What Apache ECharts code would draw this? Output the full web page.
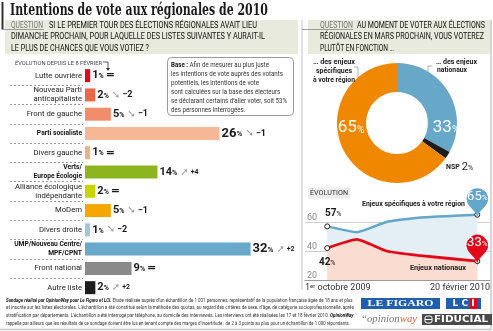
<!DOCTYPE html>
<html><head><meta charset="utf-8">
<script src="https://cdn.jsdelivr.net/npm/echarts@6/dist/echarts.min.js"></script>
<style>html,body{margin:0;padding:0;background:#fff;}#c{width:493px;height:331px;}</style>
</head><body><div id="c"></div>
<script>
// ---------- DATA ----------
const categories = ['Lutte ouvrière','Nouveau Parti\nanticapitaliste','Front de gauche','Parti socialiste','Divers gauche','Verts/\nEurope Écologie','Alliance écologique\nindépendante','MoDem','Divers droite','UMP/Nouveau Centre/\nMPF/CPNT','Front national','Autre liste'];
const voteShares = [1, 2, 5, 26, 1, 14, 2, 5, 1, 32, 9, 2];
const changesSinceFeb8 = [0, -2, -1, -1, 0, 4, 0, -1, -2, 2, 0, 2];
const boldCategories = ['Parti socialiste', 'Verts/\nEurope Écologie', 'UMP/Nouveau Centre/\nMPF/CPNT'];

const donutNames = ['… des enjeux nationaux', 'NSP', '… des enjeux spécifiques à votre région'];
const donutValues = [33, 2, 65];

const surveyDays = [0, 28, 56, 86, 142];           // days after 1 Oct 2009
const regionalStakes = [57, 53, 60, 63, 65];
const nationalStakes = [42, 48, 40, 37, 33];
const evolutionXLabels = ['1{s|er} octobre 2009', '20 février 2010'];

// ---------- STYLE ----------
const barColors = ['#e2081a','#ea6a48','#f18d6a','#f6b797','#dcb98c','#8cb51f','#c9d300','#f5a700','#a9c4d3','#68a8c8','#8a8a8a','#1c1c1c'];
const donutColors = ['#67a8c9', '#1c1c1c', '#f08700'];

// ---------- font helpers (pick narrowest installed sans, measure text) ----------
const mctx = document.createElement('canvas').getContext('2d');
const stripRich = t => t.replace(/\{[a-zA-Z]+\|([^}]*)\}/g, '$1');
function textW(font, text) { mctx.font = font; return mctx.measureText(stripRich(text)).width; }
const probe = 'Lutte ouvrière Front de gauche UMP/Nouveau Centre';
const cands = [
  {fam: "'Liberation Sans Narrow'", st: ''},
  {fam: "'DejaVu Sans Condensed'", st: ''},
  {fam: "'DejaVu Sans'", st: 'condensed'},
  {fam: "'Liberation Sans'", st: ''},
  {fam: "'Roboto'", st: ''}
];
let best = null;
cands.forEach(c => {
  const a = textW(`${c.st} 9px ${c.fam}, monospace`, probe), b = textW(`${c.st} 9px ${c.fam}, serif`, probe);
  if (Math.abs(a - b) > 0.01) return;
  if (c.st && textW(`${c.st} 9px ${c.fam}`, probe) >= textW(`9px ${c.fam}`, probe) - 0.5) return;
  if (!best || a < best.w) best = {fam: c.fam, st: c.st, w: a};
});
if (!best) best = {fam: 'sans-serif', st: ''};
const FAM = best.fam + ', sans-serif';
const ST = best.st;
const W = w => ST ? (w === 'bold' ? 'condensed bold' : 'condensed') : w;
const mkFont = (w, size, fam) => `${ST} ${w} ${size}px ${fam || FAM}`;

function fit(o) {
  const font = o.font || mkFont(o.weight || 'normal', o.size, o.fam);
  const s = o.target ? o.target / textW(font, o.text) : 1;
  return {type: 'text', x: o.x, y: o.y, scaleX: s, z: 100,
    style: {text: o.text, font, fill: o.fill || '#1a1a1a', align: o.align || 'left', verticalAlign: 'middle', rich: o.rich}};
}
const clamp = (v, a, b) => Math.max(a, Math.min(b, v));
const catSizeN = clamp(9 * 47 / textW(mkFont('normal', 9), 'Lutte ouvrière'), 6.5, 9);
const catSizeB = clamp(9 * 68 / textW(mkFont('bold', 9), 'UMP/Nouveau Centre/'), 6.5, 9);
const catLH = Math.max(catSizeN, catSizeB) + 1.5;

const chart = echarts.init(document.getElementById('c'), null, {renderer: 'canvas'});

const barLabel = p => {
  const c = changesSinceFeb8[p.dataIndex];
  const v = p.value >= 20 ? 'vb' : 'v';
  let s = `{${v}|${p.value}}{${v === 'vb' ? 'pb' : 'p'}|%}`;
  if (c === 0) s += '{eq|=}';
  else s += (c < 0 ? '{a|➘}' : '{a|➚}') + `{${c > 0 ? 'dp' : 'd'}|${c < 0 ? '−' : '+'}${Math.abs(c)}}`;
  return s;
};
const catLabel = v => {
  const tag = boldCategories.includes(v) ? 'b' : 'n';
  return v.split('\n').map(l => `{${tag}|${l}}`).join('\n');
};
const rs = (size, w, color, extra) => Object.assign({fontSize: size, fontWeight: W(w), color, fontFamily: FAM}, extra || {});
const gs = (size, w, fill, extra) => Object.assign({fontSize: size, fontWeight: W(w), fill, fontFamily: FAM}, extra || {});

const footerLines = [
  '{bi|Sondage réalisé par OpinionWay pour Le Figaro et LCI.} Étude réalisée auprès d\u2019un échantillon de 1 001 personnes, représentatif de la population française âgée de 18 ans et plus',
  'et inscrite sur les listes électorales. L\u2019échantillon a été constitué selon la méthode des quotas, au regard des critères de sexe, d\u2019âge, de catégorie socioprofessionnelle, après',
  'stratification par départements. L\u2019échantillon a été interrogé par téléphone, au domicile des interviewés. Les interviews ont été réalisées les 17 et 18 février 2010. {bi|OpinionWay}',
  'rappelle par ailleurs que les résultats de ce sondage doivent être lus en tenant compte des marges d\u2019incertitude : de 2 à 3 points au plus pour un échantillon de 1 000 répondants.'
];
const footerTargets = [348, 348, 348, 344];
const baseLines = ['{b|Base :} Afin de mesurer au plus juste', 'les intentions de vote auprès des votants', 'potentiels, les intentions de vote', 'sont calculées sur la base des électeurs', 'se déclarant certains d\u2019aller voter, soit 53%', 'des personnes interrogées.'];
const baseScale = 116 / textW(mkFont('normal', 7.5), baseLines[4]);

const gfx = [
  // frame lines
  {type: 'line', shape: {x1: 0, y1: 329.5, x2: 491, y2: 329.5}, style: {stroke: '#c8c8c8', lineWidth: 1.5}},
  {type: 'line', shape: {x1: 491, y1: 20, x2: 491, y2: 330}, style: {stroke: '#c8c8c8', lineWidth: 1.5}},
  {type: 'line', shape: {x1: 302, y1: 20, x2: 302, y2: 290}, style: {stroke: '#c4c4c4', lineWidth: 1}},
  // title
  {type: 'line', shape: {x1: 2.5, y1: 2, x2: 2.5, y2: 29.5}, style: {stroke: '#333', lineWidth: 2}},
  fit({x: 10, y: 10.5, text: 'Intentions de vote aux régionales de 2010', font: "bold 16px 'DejaVu Serif', serif", target: 258}),
  // left question
  {type: 'rect', shape: {x: 5, y: 20, width: 293, height: 34}, style: {fill: '#e7eadc'}},
  {type: 'line', shape: {x1: 2.5, y1: 29.5, x2: 44, y2: 29.5}, style: {stroke: '#888', lineWidth: 0.8}},
  fit({x: 11, y: 25.5, text: 'QUESTION', size: 9, fill: '#777', target: 32}),
  fit({x: 49, y: 25.5, text: 'SI LE PREMIER TOUR DES ÉLECTIONS RÉGIONALES AVAIT LIEU', size: 9, fill: '#111', target: 208}),
  fit({x: 11, y: 37, text: 'DIMANCHE PROCHAIN, POUR LAQUELLE DES LISTES SUIVANTES Y AURAIT-IL', size: 9, fill: '#111', target: 254}),
  fit({x: 11, y: 48.5, text: 'LE PLUS DE CHANCES QUE VOUS VOTIEZ ?', size: 9, fill: '#111', target: 138}),
  // evolution note
  fit({x: 15, y: 63, text: 'ÉVOLUTION DEPUIS LE 8 FÉVRIER', size: 6, fill: '#444', target: 87}),
  {type: 'polyline', shape: {points: [[103, 62], [108, 62], [108, 69]]}, style: {stroke: '#333', lineWidth: 0.8, fill: null}},
  {type: 'polygon', shape: {points: [[106, 68], [110, 68], [108, 71]]}, style: {fill: '#333'}},
  // base box
  {type: 'rect', shape: {x: 167.5, y: 57.5, width: 126, height: 58, r: 4}, style: {fill: '#fff', stroke: '#9a9a9a', lineWidth: 1}},
  ...baseLines.map((t, i) => ({type: 'text', x: 171, y: 65 + i * 9, scaleX: baseScale, z: 100,
    style: {text: t, font: mkFont('normal', 7.5), fill: '#333', verticalAlign: 'middle', rich: {b: gs(7.5, 'bold', '#111')}}})),
  // right question
  {type: 'rect', shape: {x: 308, y: 20, width: 182, height: 34}, style: {fill: '#e7eadc'}},
  {type: 'line', shape: {x1: 302, y1: 29.5, x2: 353, y2: 29.5}, style: {stroke: '#888', lineWidth: 0.8}},
  fit({x: 320, y: 25.5, text: 'QUESTION', size: 9, fill: '#777', target: 33}),
  fit({x: 357, y: 25.5, text: 'AU MOMENT DE VOTER AUX ÉLECTIONS', size: 9, fill: '#111', target: 128}),
  fit({x: 320, y: 37, text: 'RÉGIONALES EN MARS PROCHAIN, VOUS VOTEREZ', size: 9, fill: '#111', target: 164}),
  fit({x: 320, y: 48.5, text: 'PLUTÔT EN FONCTION …', size: 9, fill: '#111', target: 74}),
  // donut annotations
  fit({x: 334, y: 61.5, text: '… des enjeux', size: 8, weight: 'bold', align: 'center', target: 42}),
  fit({x: 334, y: 70.5, text: 'spécifiques', size: 8, weight: 'bold', align: 'center', target: 36}),
  fit({x: 334, y: 79.5, text: 'à votre région', size: 8, weight: 'bold', align: 'center', target: 42}),
  fit({x: 436, y: 61.5, text: '… des enjeux', size: 8, weight: 'bold', target: 41}),
  fit({x: 437, y: 70, text: 'nationaux', size: 8, weight: 'bold', target: 30}),
  {type: 'polyline', shape: {points: [[354, 67], [358, 67], [358, 86]]}, style: {stroke: '#999', lineWidth: 0.8, fill: null}},
  {type: 'polyline', shape: {points: [[432, 66], [428, 66], [428, 80]]}, style: {stroke: '#999', lineWidth: 0.8, fill: null}},
  fit({x: 351, y: 128, text: `{v|${donutValues[2]}}{p|%}`, size: 17, align: 'center',
    rich: {v: gs(17, 'normal', '#fff'), p: gs(10, 'normal', '#fff', {padding: [4, 0, 0, 0]})}}),
  fit({x: 446, y: 128, text: `{v|${donutValues[0]}}{p|%}`, size: 17, align: 'center',
    rich: {v: gs(17, 'normal', '#fff'), p: gs(10, 'normal', '#fff', {padding: [4, 0, 0, 0]})}}),
  fit({x: 446, y: 167, text: `{n|NSP} {v|${donutValues[1]}}{p|%}`, size: 8,
    rich: {n: gs(7, 'bold', '#1a1a1a'), v: gs(11, 'normal', '#1a1a1a'), p: gs(7, 'normal', '#1a1a1a', {padding: [2, 0, 0, 0]})}}),
  // evolution block
  {type: 'rect', shape: {x: 308, y: 187.5, width: 42, height: 11}, style: {fill: '#ededed'}},
  fit({x: 310, y: 193, text: 'ÉVOLUTION', size: 8, fill: '#333', target: 38}),
  fit({x: 413.5, y: 204, text: 'Enjeux spécifiques à votre région', size: 8, weight: 'bold', align: 'center', target: 103}),
  fit({x: 438, y: 268, text: 'Enjeux nationaux', size: 8, weight: 'bold', align: 'center', target: 56}),
  // footer
  ...footerLines.map((t, i) => fit({x: 6, y: 300.5 + i * 7.6, text: t, size: 5.4, fill: '#333', target: footerTargets[i],
    rich: {bi: gs(5.4, 'bold', '#111', {fontStyle: 'italic'})}})),
  // logos
  {type: 'rect', shape: {x: 361, y: 298, width: 79, height: 11}, style: {fill: '#1f5fae'}},
  fit({x: 400.5, y: 303.8, text: 'LE FIGARO', font: "bold 9px 'Liberation Serif',serif", fill: '#fff', align: 'center', target: 66}),
  {type: 'rect', shape: {x: 446, y: 298, width: 35, height: 11}, style: {fill: '#1f5fae'}},
  {type: 'rect', shape: {x: 470, y: 298, width: 8, height: 11}, style: {fill: '#e2081a'}},
  fit({x: 463.5, y: 303.8, text: 'L C I', font: "bold 9px 'DejaVu Sans',sans-serif", fill: '#fff', align: 'center'}),
  fit({x: 361, y: 319, text: '{g|\u201copinion}{o|way}', font: "italic 10px 'Liberation Serif',serif", target: 56,
    rich: {g: {fontSize: 10, fontStyle: 'italic', fill: '#777', fontFamily: "'Liberation Serif',serif"}, o: {fontSize: 10, fontStyle: 'italic', fill: '#e8562a', fontFamily: "'Liberation Serif',serif"}}}),
  {type: 'rect', shape: {x: 422, y: 314, width: 70, height: 11}, style: {fill: '#4a4a4a'}},
  {type: 'rect', shape: {x: 425, y: 316, width: 7, height: 7, r: 2}, style: {fill: null, stroke: '#fff', lineWidth: 1}},
  {type: 'line', shape: {x1: 425, y1: 319.5, x2: 432, y2: 319.5}, style: {stroke: '#fff', lineWidth: 1}},
  fit({x: 461, y: 319.8, text: 'FIDUCIAL', font: "bold 8px 'DejaVu Sans',sans-serif", fill: '#fff', align: 'center', target: 54})
];

const lineSeries = (vals, color, width, area, labelPos, labelOffset) => ({
  type: 'line', xAxisIndex: 1, yAxisIndex: 1, smooth: 0.15,
  data: surveyDays.map((d, i) => ({value: [d, vals[i]],
    symbol: (i === 0 || i === surveyDays.length - 1) ? 'circle' : 'none',
    label: i === 0 ? {show: true, position: labelPos, offset: labelOffset, formatter: () => `{v|${vals[0]}}{p|%}`} : {show: false}})),
  symbolSize: 5, lineStyle: {color, width},
  itemStyle: {color: '#fff', borderColor: '#222', borderWidth: 1},
  areaStyle: {color: area, opacity: 1},
  label: {rich: {v: rs(10, 'bold', '#1a1a1a'), p: rs(7, 'normal', '#1a1a1a', {padding: [2, 0, 0, 0]})}},
  markPoint: {symbol: 'pin', symbolSize: [36, 35], symbolOffset: [0, 4],
    itemStyle: {color},
    label: {show: true, position: 'inside', offset: [0, -4], formatter: () => `{v|${vals[vals.length - 1]}}{p|%}`,
      rich: {v: rs(13, 'normal', '#fff'), p: rs(8, 'normal', '#fff', {padding: [3, 0, 0, 0]})}},
    data: [{coord: [surveyDays[surveyDays.length - 1], vals[vals.length - 1]]}]}
});

const option = {
  animation: false,
  textStyle: {fontFamily: FAM},
  grid: [
    {left: 85, top: 66, width: 207, height: 231.3, outerBoundsMode: 'none'},
    {left: 305, top: 193, width: 185, height: 87, outerBoundsMode: 'none'},
    {left: 10, top: 66, width: 73, height: 231.3, outerBoundsMode: 'none'}
  ],
  xAxis: [
    {gridIndex: 0, type: 'value', min: 0, max: 40, show: false},
    {gridIndex: 1, type: 'value', min: -21, max: 154,
      axisLine: {show: true, lineStyle: {color: '#9a9a9a', width: 1}},
      axisTick: {show: false}, splitLine: {show: false},
      axisLabel: {customValues: [-21, 154], alignMinLabel: 'left', alignMaxLabel: 'right', margin: 3,
        color: '#333', fontSize: 9, fontFamily: FAM, fontWeight: W('normal'),
        formatter: v => v < 0 ? evolutionXLabels[0] : evolutionXLabels[1],
        rich: {s: rs(6, 'normal', '#333', {verticalAlign: 'top'})}}},
    {gridIndex: 2, type: 'value', min: 0, max: 1, show: false}
  ],
  yAxis: [
    {gridIndex: 0, type: 'category', data: categories, inverse: true,
      axisLine: {show: false}, axisTick: {show: false},
      axisLabel: {margin: 3, formatter: catLabel, lineHeight: catLH,
        rich: {
          n: rs(catSizeN, 'normal', '#222', {lineHeight: catLH, align: 'right'}),
          b: rs(catSizeB, 'bold', '#111', {lineHeight: catLH, align: 'right'})
        }}},
    {gridIndex: 1, type: 'value', min: 20, max: 80, interval: 20,
      axisLine: {show: false}, axisTick: {show: false},
      axisLabel: {inside: true, margin: 2, verticalAlign: 'bottom', color: '#8a8a8a', fontSize: 9, fontFamily: FAM, fontWeight: W('normal'),
        formatter: v => v >= 80 ? '' : String(v)},
      splitLine: {show: true, lineStyle: {color: ['#cfcfcf', '#cfcfcf', '#cfcfcf', 'rgba(0,0,0,0)'], width: 1}}},
    {gridIndex: 2, type: 'category', data: categories, inverse: true,
      axisLine: {show: false}, axisTick: {show: false}, axisLabel: {show: false},
      splitLine: {show: true, showMinLine: false, showMaxLine: false, interval: 0,
        lineStyle: {color: '#9a9a9a', type: [2, 2], width: 1}}}
  ],
  series: [
    {type: 'bar', xAxisIndex: 0, yAxisIndex: 0, barWidth: 13,
      data: voteShares.map((v, i) => ({value: v, itemStyle: {color: barColors[i]}})),
      label: {show: true, position: 'right', distance: 2, formatter: barLabel,
        rich: {
          v: rs(11, 'bold', '#1a1a1a'),
          vb: rs(13, 'bold', '#1a1a1a'),
          p: rs(7, 'bold', '#1a1a1a', {padding: [2, 0, 0, 0]}),
          pb: rs(8, 'bold', '#1a1a1a', {padding: [2, 0, 0, 0]}),
          eq: {fontSize: 11, fontWeight: 'bold', color: '#1a1a1a', fontFamily: "'DejaVu Sans'", padding: [0, 0, 0, 2]},
          a: {fontSize: 10, color: '#a0a0a0', fontFamily: "'DejaVu Sans'", padding: [0, 2, 0, 3]},
          d: rs(9, 'bold', '#1a1a1a'),
          dp: rs(7, 'bold', '#1a1a1a')
        }}},
    {type: 'pie', center: [397, 123], radius: [31, 60], startAngle: 90, clockwise: true,
      label: {show: false}, labelLine: {show: false}, silent: true,
      data: donutValues.map((v, i) => ({value: v, name: donutNames[i], itemStyle: {color: donutColors[i]}}))},
    lineSeries(regionalStakes, '#62a6c9', 2.5, '#e3eef5', 'top', [6, 0]),
    lineSeries(nationalStakes, '#e2081a', 2.8, '#fbdcd1', 'bottom', [0, 1])
  ],
  graphic: {elements: gfx}
};
chart.setOption(option);
</script></body></html>
